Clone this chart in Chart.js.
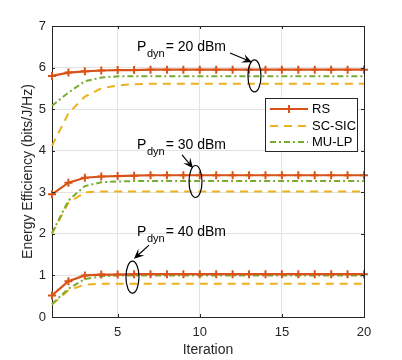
<!DOCTYPE html>
<html>
<head>
<meta charset="utf-8">
<script src="https://cdn.jsdelivr.net/npm/chart.js@4.4.1/dist/chart.umd.min.js"></script>
<style>
  html, body { margin: 0; padding: 0; background: #fff; }
</style>
</head>
<body>
<canvas id="eeChart" width="402" height="360"></canvas>
<script>
// x values (iteration index)
const iterations = [1, 2, 3, 4, 5, 6, 7, 8, 9, 10, 11, 12, 13, 14, 15, 16, 17, 18, 19, 20];

// P_dyn = 20 dBm
const rs20 = [5.80, 5.88, 5.91, 5.93, 5.94, 5.94, 5.95, 5.95, 5.95, 5.95, 5.95, 5.95, 5.95, 5.95, 5.95, 5.95, 5.95, 5.95, 5.95, 5.95];
const sc20 = [4.12, 4.90, 5.30, 5.50, 5.57, 5.60, 5.61, 5.61, 5.61, 5.61, 5.61, 5.61, 5.61, 5.61, 5.61, 5.61, 5.61, 5.61, 5.61, 5.61];
const mu20 = [5.08, 5.40, 5.67, 5.76, 5.79, 5.79, 5.79, 5.79, 5.79, 5.79, 5.79, 5.79, 5.79, 5.79, 5.79, 5.79, 5.79, 5.79, 5.79, 5.79];

// P_dyn = 30 dBm
const rs30 = [2.95, 3.23, 3.35, 3.38, 3.39, 3.40, 3.41, 3.41, 3.41, 3.41, 3.41, 3.41, 3.41, 3.41, 3.41, 3.41, 3.41, 3.41, 3.41, 3.41];
const sc30 = [2.00, 2.75, 3.00, 3.02, 3.02, 3.02, 3.02, 3.02, 3.02, 3.02, 3.02, 3.02, 3.02, 3.02, 3.02, 3.02, 3.02, 3.02, 3.02, 3.02];
const mu30 = [2.02, 2.80, 3.15, 3.24, 3.26, 3.27, 3.27, 3.27, 3.27, 3.27, 3.27, 3.27, 3.27, 3.27, 3.27, 3.27, 3.27, 3.27, 3.27, 3.27];

// P_dyn = 40 dBm
const rs40 = [0.52, 0.86, 1.00, 1.02, 1.02, 1.03, 1.03, 1.03, 1.03, 1.03, 1.03, 1.03, 1.03, 1.03, 1.03, 1.03, 1.03, 1.03, 1.03, 1.03];
const sc40 = [0.30, 0.64, 0.78, 0.80, 0.80, 0.80, 0.80, 0.80, 0.80, 0.80, 0.80, 0.80, 0.80, 0.80, 0.80, 0.80, 0.80, 0.80, 0.80, 0.80];
const mu40 = [0.31, 0.68, 0.91, 0.98, 1.00, 1.00, 1.00, 1.00, 1.00, 1.00, 1.00, 1.00, 1.00, 1.00, 1.00, 1.00, 1.00, 1.00, 1.00, 1.00];

const xTicks = [5, 10, 15, 20];
const yTicks = [0, 1, 2, 3, 4, 5, 6, 7];
const seriesNames = ['RS', 'SC-SIC', 'MU-LP'];
const pdynLabels = ['20 dBm', '30 dBm', '40 dBm'];

const FONT = "'Liberation Sans', Arial, Helvetica, sans-serif";
const AXIS_COLOR = '#262626';

const styleOf = {
  'RS':     { borderColor: '#D95319', borderWidth: 2.2, borderDash: [], pointStyle: 'cross', pointRadius: 4, pointBorderWidth: 2, pointBorderColor: '#D95319' },
  'SC-SIC': { borderColor: '#EDB120', borderWidth: 2, borderDash: [8, 6], pointRadius: 0 },
  'MU-LP':  { borderColor: '#77AC30', borderWidth: 2, borderDash: [6, 3, 2, 3], pointRadius: 0 }
};

function pts(vals) {
  return vals.map((v, i) => ({ x: iterations[i], y: v }));
}
function makeSet(name, vals) {
  return Object.assign({ label: name, data: pts(vals), fill: false, tension: 0, clip: false, pointHoverRadius: 0 }, styleOf[name]);
}

// annotation anchors in data coordinates (text, arrow start, arrow end, ellipse)
const notes = [
  { label: pdynLabels[0], tx: 6.18, ty: 6.50, ax0: 11.84, ay0: 6.35, ax1: 13.18, ay1: 6.13, ex: 13.33, ey: 5.80 },
  { label: pdynLabels[1], tx: 6.18, ty: 4.14, ax0: 8.92, ay0: 3.90, ax1: 9.59, ay1: 3.58, ex: 9.74, ey: 3.26 },
  { label: pdynLabels[2], tx: 6.18, ty: 2.04, ax0: 6.91, ay0: 1.73, ax1: 5.99, ay1: 1.40, ex: 5.90, ey: 0.96 }
];

function drawArrow(ctx, x0, y0, x1, y1) {
  const ang = Math.atan2(y1 - y0, x1 - x0);
  const len = 10, half = 4.5;
  ctx.beginPath();
  ctx.moveTo(x0, y0);
  ctx.lineTo(x1 - Math.cos(ang) * 5, y1 - Math.sin(ang) * 5);
  ctx.stroke();
  const bx = x1 - Math.cos(ang) * len, by = y1 - Math.sin(ang) * len;
  const nx = x1 - Math.cos(ang) * (len * 0.6), ny = y1 - Math.sin(ang) * (len * 0.6);
  ctx.beginPath();
  ctx.moveTo(x1, y1);
  ctx.lineTo(bx + Math.sin(ang) * half, by - Math.cos(ang) * half);
  ctx.lineTo(nx, ny);
  ctx.lineTo(bx - Math.sin(ang) * half, by + Math.cos(ang) * half);
  ctx.closePath();
  ctx.fill();
}

const decor = {
  id: 'decor',
  beforeDraw(chart) {
    const ctx = chart.ctx;
    ctx.save();
    ctx.fillStyle = '#fff';
    ctx.fillRect(0, 0, chart.width, chart.height);
    ctx.restore();
  },
  afterDatasetsDraw(chart) {
    const ctx = chart.ctx;
    const xs = chart.scales.x, ys = chart.scales.y;
    ctx.save();
    ctx.strokeStyle = '#000';
    ctx.fillStyle = '#000';
    ctx.lineWidth = 1.2;
    notes.forEach(n => {
      // ellipse
      ctx.beginPath();
      ctx.ellipse(xs.getPixelForValue(n.ex), ys.getPixelForValue(n.ey), 6.5, 16, 0, 0, Math.PI * 2);
      ctx.stroke();
      // arrow
      drawArrow(ctx, xs.getPixelForValue(n.ax0), ys.getPixelForValue(n.ay0), xs.getPixelForValue(n.ax1), ys.getPixelForValue(n.ay1));
      // text P_dyn = ...
      let x = xs.getPixelForValue(n.tx), y = ys.getPixelForValue(n.ty);
      ctx.textBaseline = 'middle';
      ctx.textAlign = 'left';
      ctx.font = '14px ' + FONT;
      ctx.fillText('P', x, y);
      x += ctx.measureText('P').width + 0.5;
      ctx.font = '11px ' + FONT;
      ctx.fillText('dyn', x, y + 7);
      x += ctx.measureText('dyn').width + 1;
      ctx.font = '14px ' + FONT;
      ctx.fillText('= ' + n.label, x, y);
    });
    ctx.restore();
  },
  afterDraw(chart) {
    const ctx = chart.ctx;
    const a = chart.chartArea;
    const xs = chart.scales.x, ys = chart.scales.y;
    ctx.save();
    // top / right box lines
    ctx.strokeStyle = AXIS_COLOR;
    ctx.lineWidth = 1;
    ctx.beginPath();
    ctx.moveTo(Math.round(a.left), Math.round(a.top) + 0.5);
    ctx.lineTo(Math.round(a.right) + 0.5, Math.round(a.top) + 0.5);
    ctx.lineTo(Math.round(a.right) + 0.5, Math.round(a.bottom));
    ctx.stroke();
    // inward ticks
    ctx.beginPath();
    yTicks.forEach(v => {
      const py = Math.round(ys.getPixelForValue(v)) + 0.5;
      ctx.moveTo(a.left, py); ctx.lineTo(a.left + 3, py);
      ctx.moveTo(a.right, py); ctx.lineTo(a.right - 3, py);
    });
    xTicks.forEach(v => {
      const px = Math.round(xs.getPixelForValue(v)) + 0.5;
      ctx.moveTo(px, a.bottom); ctx.lineTo(px, a.bottom - 3);
      ctx.moveTo(px, a.top); ctx.lineTo(px, a.top + 3);
    });
    ctx.stroke();

    // legend box
    const lx = 265.5, ly = 98.5, lw = 92, lh = 53;
    ctx.fillStyle = '#fff';
    ctx.fillRect(lx, ly, lw, lh);
    ctx.strokeStyle = AXIS_COLOR;
    ctx.strokeRect(lx, ly, lw, lh);
    const rowY = [109, 126, 142];
    seriesNames.forEach((name, i) => {
      const s = styleOf[name];
      const y = rowY[i];
      ctx.strokeStyle = s.borderColor;
      ctx.lineWidth = s.borderWidth;
      ctx.setLineDash(s.borderDash);
      ctx.beginPath();
      ctx.moveTo(270, y); ctx.lineTo(308, y);
      ctx.stroke();
      ctx.setLineDash([]);
      if (s.pointStyle === 'cross') {
        ctx.lineWidth = 2;
        ctx.beginPath();
        ctx.moveTo(289, y - 4); ctx.lineTo(289, y + 4);
        ctx.moveTo(285, y); ctx.lineTo(293, y);
        ctx.stroke();
      }
      ctx.fillStyle = '#000';
      ctx.font = '13px ' + FONT;
      ctx.textBaseline = 'middle';
      ctx.textAlign = 'left';
      ctx.fillText(name, 312, y + 0.5);
    });
    ctx.restore();
  }
};

const datasets = [
  makeSet('RS', rs20), makeSet('RS', rs30), makeSet('RS', rs40),
  makeSet('MU-LP', mu20), makeSet('MU-LP', mu30), makeSet('MU-LP', mu40),
  makeSet('SC-SIC', sc20), makeSet('SC-SIC', sc30), makeSet('SC-SIC', sc40)
];

const eeChart = new Chart(document.getElementById('eeChart'), {
  type: 'line',
  data: { datasets: datasets },
  options: {
    responsive: false,
    animation: false,
    devicePixelRatio: 1,
    layout: { padding: { top: 26, right: 38, left: 0, bottom: 0 } },
    plugins: { legend: { display: false }, tooltip: { enabled: false } },
    scales: {
      x: {
        type: 'linear', min: 1, max: 20,
        afterFit: s => { s.height = 43; },
        afterBuildTicks: s => { s.ticks = xTicks.map(v => ({ value: v })); },
        grid: { color: '#e3e3e3', drawTicks: false },
        border: { color: AXIS_COLOR, width: 1 },
        ticks: { color: AXIS_COLOR, padding: 8, maxRotation: 0, font: { family: FONT, size: 13 } },
        title: { display: true, text: 'Iteration', color: AXIS_COLOR, padding: { top: 0, bottom: 1 }, font: { family: FONT, size: 14 } }
      },
      y: {
        min: 0, max: 7,
        afterFit: s => { s.width = 52; },
        afterBuildTicks: s => { s.ticks = yTicks.map(v => ({ value: v })); },
        grid: { color: '#e3e3e3', drawTicks: false },
        border: { color: AXIS_COLOR, width: 1 },
        ticks: { color: AXIS_COLOR, padding: 6, font: { family: FONT, size: 13 } },
        title: { display: true, text: 'Energy Efficiency (bits/J/Hz)', color: AXIS_COLOR, padding: { top: 20, bottom: 0 }, font: { family: FONT, size: 14 } }
      }
    }
  },
  plugins: [decor]
});
</script>
</body>
</html>
